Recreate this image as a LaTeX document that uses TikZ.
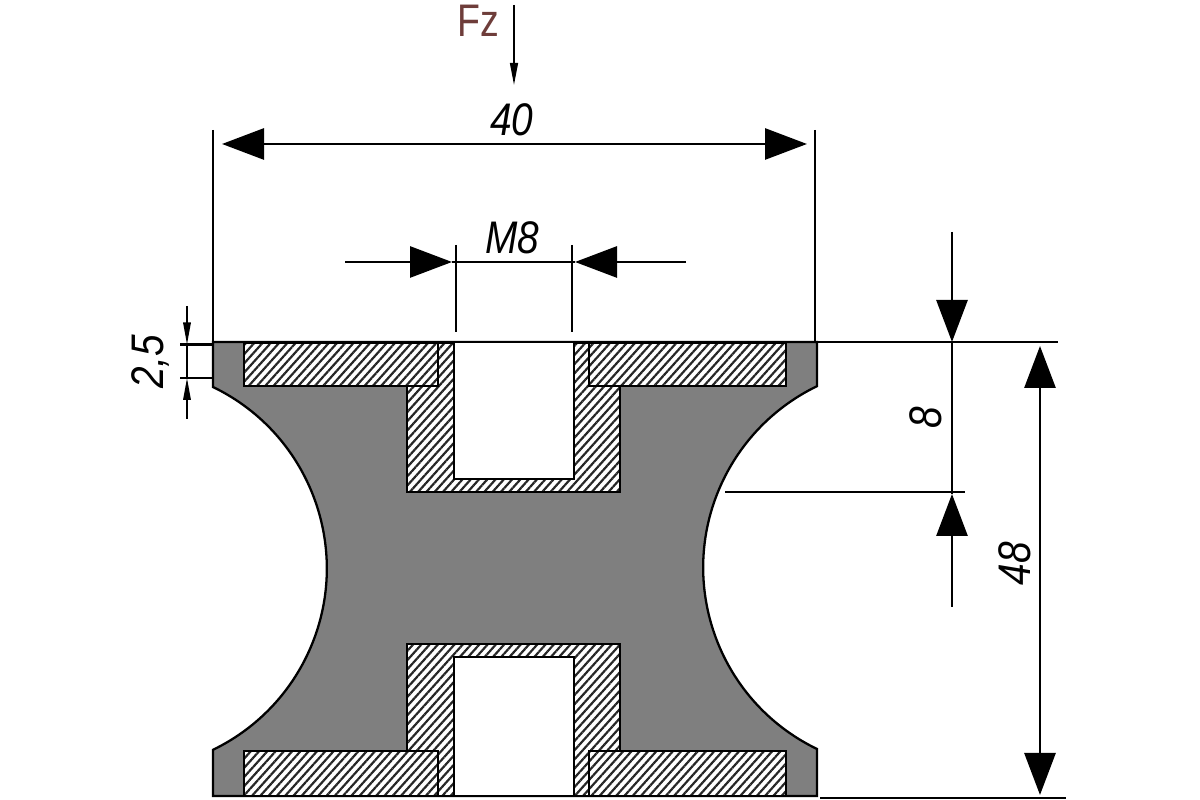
\documentclass[tikz,border=0pt]{standalone}
\usepackage{fontspec}
\setmainfont{Liberation Sans}[FakeStretch=0.82]
\newfontfamily\dimfont{Liberation Sans}[FakeStretch=0.85]
\usetikzlibrary{arrows.meta}
\usetikzlibrary{patterns.meta}
\definecolor{rubber}{HTML}{7F7F7F}
\definecolor{fzbrown}{HTML}{6E3D3A}
\tikzset{
  bodyline/.style={draw=black,line width=.65pt,fill=rubber},
  hatchfill/.style={draw=black,line width=.7pt,preaction={fill=white},pattern={Lines[angle=48,distance=1.75pt,line width=.62pt]},pattern color=black!85},
  holefill/.style={fill=white},
  edgeline/.style={black,line width=.8pt},
  dimline/.style={black,line width=.8pt},
  thinline/.style={black,line width=.45pt},
  bigtip/.style={>={Triangle[length=4.2mm,width=3.1mm]}},
  smalltip/.style={>={Triangle[length=2.2mm,width=.75mm]}},
  dimtext/.style={font=\dimfont\itshape\fontsize{13}{13}\selectfont,inner sep=0pt}
}
\begin{document}
\begin{tikzpicture}
\useasboundingbox (0,0) rectangle (12,8);
% body
\draw[bodyline] (2.13,4.58) -- (2.13,4.13) arc (64.2:-64.2:2.015) -- (2.13,.04) -- (8.17,.04) -- (8.17,.51) arc (244.2:115.8:2.015) -- (8.17,4.58) -- cycle;
\draw[edgeline] (2.13,4.58) -- (2.13,4.13);
\draw[edgeline] (8.17,4.58) -- (8.17,4.13);
\draw[edgeline,line width=.6pt] (2.13,.51) -- (2.13,.04) -- (8.17,.04) -- (8.17,.51);
% top insert
\draw[hatchfill] (2.44,4.57) -- (7.86,4.57) -- (7.86,4.14) -- (6.20,4.14) -- (6.20,3.08) -- (4.07,3.08) -- (4.07,4.14) -- (2.44,4.14) -- cycle;
\fill[holefill] (4.54,4.57) rectangle (5.74,3.21);
\draw[line width=.7pt] (4.54,4.57) -- (4.54,3.21) -- (5.74,3.21) -- (5.74,4.57);
\draw[line width=.7pt] (4.07,4.14) -- (4.38,4.14) -- (4.38,4.57);
\draw[line width=.7pt] (6.20,4.14) -- (5.89,4.14) -- (5.89,4.57);
\draw[edgeline] (2.13,4.58) -- (8.17,4.58);
% bottom insert
\draw[hatchfill] (2.44,.04) -- (7.86,.04) -- (7.86,.49) -- (6.20,.49) -- (6.20,1.56) -- (4.07,1.56) -- (4.07,.49) -- (2.44,.49) -- cycle;
\fill[holefill] (4.54,.04) rectangle (5.74,1.43);
\draw[line width=.6pt] (4.54,.04) -- (4.54,1.43) -- (5.74,1.43) -- (5.74,.04);
\draw[line width=.4pt] (4.07,.49) -- (4.38,.49) -- (4.38,.04);
\draw[line width=.4pt] (6.20,.49) -- (5.89,.49) -- (5.89,.04);
\draw[edgeline,line width=.6pt] (2.13,.04) -- (8.17,.04);
% load
\coordinate (Fa) at (5.14,7.95);
\coordinate (Fb) at (5.14,7.14);
\draw[dimline,->,>={Triangle[length=2.3mm,width=.75mm]}] (Fa) -- (Fb);
\node[inner sep=0pt,text=fzbrown,font=\fontsize{13}{13}\selectfont] (fz) at (4.78,7.79) {Fz};
% width 40
\coordinate (La) at (2.13,6.70);
\coordinate (Lb) at (2.13,4.58);
\coordinate (Ra) at (8.15,6.70);
\coordinate (Rb) at (8.15,4.58);
\draw[dimline] (La) -- (Lb);
\draw[dimline] (Ra) -- (Rb);
\coordinate (Wa) at (2.22,6.56);
\coordinate (Wb) at (8.07,6.56);
\draw[dimline,bigtip,<->] (Wa) -- (Wb);
\node[dimtext] (w40) at (5.12,6.80) {40};
% thread
\coordinate (Ma) at (4.56,5.55);
\coordinate (Mb) at (4.56,4.68);
\coordinate (Mc) at (5.72,5.55);
\coordinate (Md) at (5.72,4.68);
\draw[thinline] (Ma) -- (Mb);
\draw[thinline] (Mc) -- (Md);
\coordinate (Me) at (3.45,5.38);
\coordinate (Mf) at (4.52,5.38);
\coordinate (Mg) at (6.86,5.38);
\coordinate (Mh) at (5.75,5.38);
\draw[dimline,bigtip,->] (Me) -- (Mf);
\draw[dimline,bigtip,->] (Mg) -- (Mh);
\draw[dimline] (Mf) -- (Mh);
\node[dimtext] (m8) at (5.12,5.62) {M8};
% flange 2,5
\coordinate (Sa) at (1.80,4.555);
\coordinate (Sb) at (2.12,4.555);
\coordinate (Sc) at (1.80,4.22);
\coordinate (Sd) at (2.12,4.22);
\draw[thinline,line width=.6pt] (Sa) -- (Sb);
\draw[thinline,line width=.6pt] (Sc) -- (Sd);
\coordinate (Se) at (1.87,4.94);
\coordinate (Sf) at (1.87,4.555);
\coordinate (Sg) at (1.87,3.81);
\coordinate (Sh) at (1.87,4.22);
\draw[thinline,smalltip,->] (Se) -- (Sf);
\draw[thinline,smalltip,->] (Sg) -- (Sh);
\draw[thinline] (Sf) -- (Sh);
\node[dimtext,rotate=90] (t25) at (1.50,4.38) {2,5};
% depth 8
\coordinate (Ta) at (8.17,4.58);
\coordinate (Tb) at (10.58,4.58);
\draw[dimline] (Ta) -- (Tb);
\coordinate (Ua) at (7.25,3.08);
\coordinate (Ub) at (9.65,3.08);
\draw[dimline] (Ua) -- (Ub);
\coordinate (Da) at (9.52,5.68);
\coordinate (Db) at (9.52,4.58);
\coordinate (Dc) at (9.52,1.93);
\coordinate (Dd) at (9.52,3.06);
\draw[dimline,bigtip,->] (Da) -- (Db);
\draw[dimline,bigtip,->] (Dc) -- (Dd);
\draw[dimline] (Db) -- (Dd);
\node[dimtext,rotate=90] (d8) at (9.26,3.82) {8};
% height 48
\coordinate (Va) at (8.20,.02);
\coordinate (Vb) at (10.66,.02);
\draw[dimline] (Va) -- (Vb);
\coordinate (Ha) at (10.40,4.54);
\coordinate (Hb) at (10.40,.05);
\draw[dimline,bigtip,<->] (Ha) -- (Hb);
\node[dimtext,rotate=90] (h48) at (10.15,2.36) {48};
\end{tikzpicture}
\end{document}
